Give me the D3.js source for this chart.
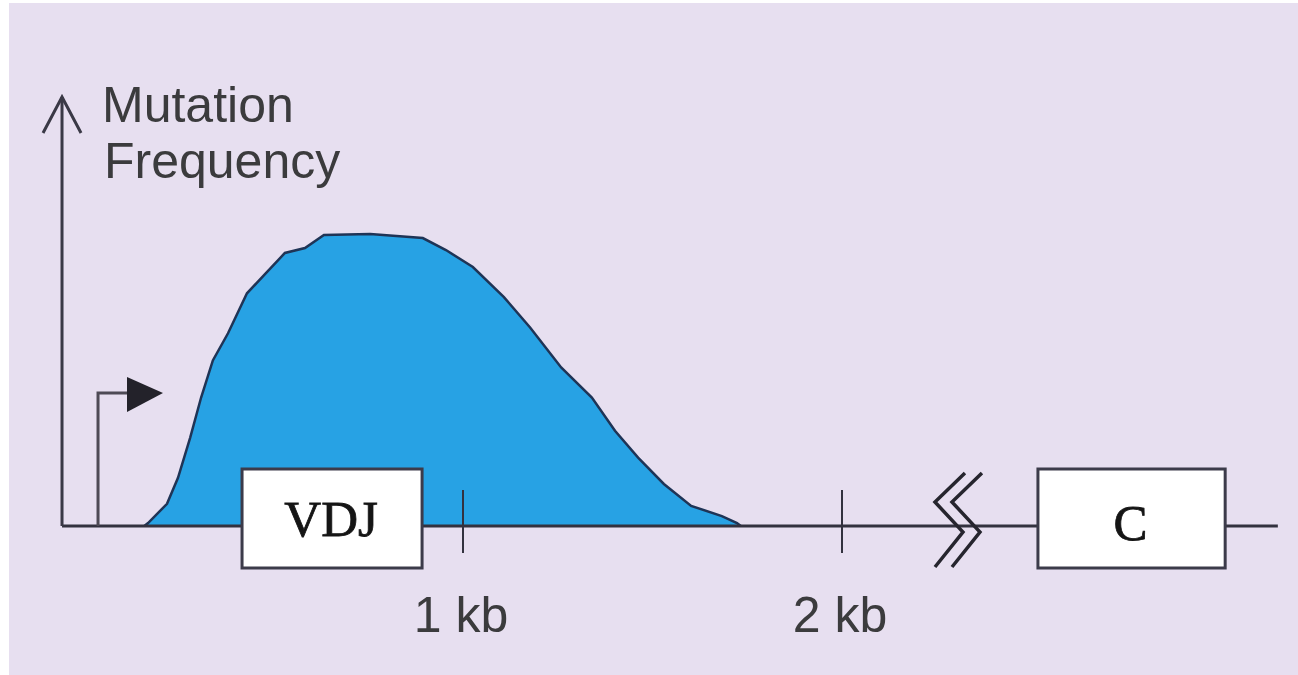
<!DOCTYPE html>
<html>
<head>
<meta charset="utf-8">
<script src="https://cdn.jsdelivr.net/npm/d3@7"></script>
<style>
  html, body { margin: 0; padding: 0; background: #fff; }
  svg { display: block; }
</style>
</head>
<body>
<div id="graph"></div>
<script>
// positions along the gene, kb
var kb = [0.169, 0.219, 0.248, 0.280, 0.309, 0.340, 0.380, 0.430, 0.480, 0.530, 0.583, 0.633,
          0.755, 0.894, 0.955, 1.026, 1.108, 1.177, 1.259, 1.340, 1.401, 1.462, 1.530, 1.602, 1.683, 1.723]
// relative mutation frequency (peak = 1)
var freq = [0.010, 0.076, 0.165, 0.302, 0.440, 0.567, 0.660, 0.797, 0.866, 0.935, 0.952, 0.997,
            1.000, 0.986, 0.945, 0.887, 0.784, 0.680, 0.543, 0.440, 0.326, 0.234, 0.144, 0.069, 0.034, 0.010]

var tickKb = [1, 2]
var tickLabels = ['1 kb', '2 kb']

var segments = ['VDJ', 'C']
var segStart = [0.417, 2.517]
var segEnd = [0.892, 3.011]

var axisAt = -0.058, promoterAt = 0.037, breakAt = 2.306, lineEnd = 3.15

var W = 1298, H = 675
var svg = d3.select('#graph').append('svg').attr('width', W).attr('height', H)

svg.append('rect').attr('x', 9).attr('y', 3).attr('width', W - 9).attr('height', H - 3)
  .attr('fill', '#e7dff0')

var x = d3.scaleLinear().domain([0, 2]).range([84, 842])
var y = d3.scaleLinear().domain([0, 1]).range([526, 234])

var pts = kb.map((d, i) => ({x: d, y: freq[i]}))
pts.unshift({x: kb[0] - 0.01, y: 0})
pts.push({x: kb[kb.length - 1] + 0.01, y: 0})

var area = d3.area().x(d => x(d.x)).y0(y(0)).y1(d => y(d.y))
var line = d3.line().x(d => x(d.x)).y(d => y(d.y))

svg.append('path').datum(pts).attr('d', area).attr('fill', '#27a2e4')
svg.append('path').datum(pts).attr('d', line)
  .attr('fill', 'none').attr('stroke', '#1f3456').attr('stroke-width', 2.5)

// baseline
svg.append('line')
  .attr('x1', x(axisAt)).attr('x2', x(lineEnd)).attr('y1', y(0)).attr('y2', y(0))
  .attr('stroke', '#33323f').attr('stroke-width', 3)

// kb ticks
svg.selectAll('line.tick').data(tickKb).join('line').attr('class', 'tick')
  .attr('x1', d => x(d)).attr('x2', d => x(d))
  .attr('y1', y(0) - 36).attr('y2', y(0) + 27)
  .attr('stroke', '#33323f').attr('stroke-width', 2)

svg.selectAll('text.kb').data(tickLabels).join('text').attr('class', 'kb')
  .attr('x', (d, i) => x(tickKb[i]) - 2).attr('y', 632)
  .attr('text-anchor', 'middle')
  .attr('font-family', 'Liberation Sans, Arial, sans-serif').attr('font-size', 50)
  .attr('fill', '#3b3b3d')
  .text(d => d)

// break symbol
var zig = [[7, -53], [-23, -24], [5, 6], [-23, 41]]
var zline = d3.line()
;[0, 17].forEach(off => {
  svg.append('path')
    .attr('d', zline(zig.map(p => [x(breakAt) + p[0] + off, y(0) + p[1]])))
    .attr('fill', 'none').attr('stroke', '#26252e').attr('stroke-width', 3.5)
})

// gene segments
var segSel = svg.selectAll('g.seg').data(segments).join('g').attr('class', 'seg')
segSel.append('rect')
  .attr('x', (d, i) => x(segStart[i])).attr('width', (d, i) => x(segEnd[i]) - x(segStart[i]))
  .attr('y', y(0) - 57).attr('height', 99)
  .attr('fill', '#fff').attr('stroke', '#3c3b4a').attr('stroke-width', 3)
segSel.append('text')
  .attr('x', (d, i) => (x(segStart[i]) + x(segEnd[i])) / 2 - 1).attr('y', (d, i) => i ? 540 : 536)
  .attr('text-anchor', 'middle')
  .attr('font-family', 'Liberation Serif, Times New Roman, serif')
  .attr('font-size', 51)
  .attr('fill', '#151515').attr('stroke', '#151515').attr('stroke-width', 0.8)
  .text(d => d)

// y axis with open arrow
var ax = x(axisAt)
svg.append('line').attr('x1', ax).attr('x2', ax).attr('y1', y(0)).attr('y2', 97)
  .attr('stroke', '#3a3946').attr('stroke-width', 3)
svg.append('path').attr('d', d3.line()([[ax - 19, 133], [ax, 97], [ax + 19, 133]]))
  .attr('fill', 'none').attr('stroke', '#3a3946').attr('stroke-width', 3)

svg.append('text').attr('x', 102).attr('y', 122)
  .attr('font-family', 'Liberation Sans, Arial, sans-serif').attr('font-size', 50)
  .attr('fill', '#3b3b3d').text('Mutation')
svg.append('text').attr('x', 104).attr('y', 178)
  .attr('font-family', 'Liberation Sans, Arial, sans-serif').attr('font-size', 50)
  .attr('fill', '#3b3b3d').text('Frequency')

// promoter arrow
var px = x(promoterAt)
svg.append('path').attr('d', d3.line()([[px, y(0)], [px, 393], [px + 32, 393]]))
  .attr('fill', 'none').attr('stroke', '#4e4a55').attr('stroke-width', 3)
svg.append('path').attr('d', d3.line()([[px + 29, 377], [px + 65, 393], [px + 29, 412]]) + 'Z')
  .attr('fill', '#23222a')
</script>
</body>
</html>
